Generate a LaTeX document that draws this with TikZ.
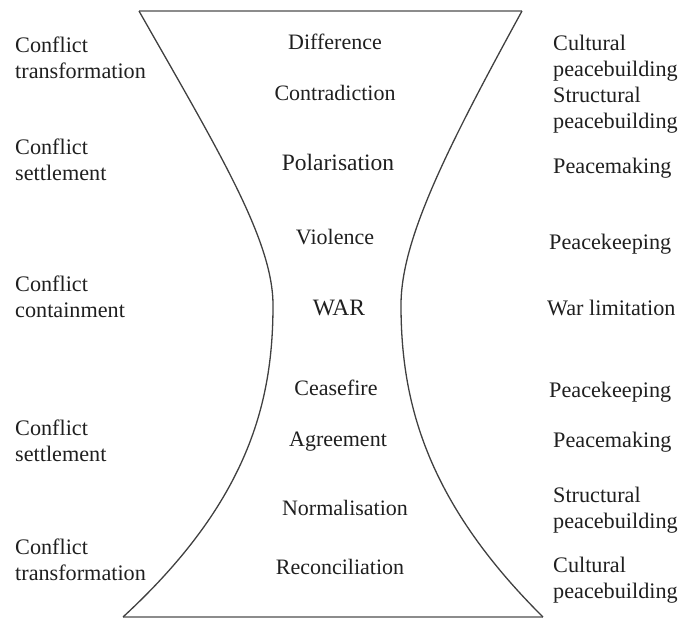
\documentclass[tikz,border=0pt]{standalone}
\usepackage{fontspec}
\setmainfont{Liberation Serif}
\begin{document}
\begin{tikzpicture}[x=1pt,y=-1pt,
  lbl/.style={font=\fontsize{22.2}{25.5}\selectfont, text=black!88, inner sep=0pt, align=left, anchor=west},
  stage/.style={font=\fontsize{22}{25.5}\selectfont, text=black!88, inner sep=0pt, anchor=center},
  bigstage/.style={font=\fontsize{23.5}{27}\selectfont, text=black!88, inner sep=0pt, anchor=center},
  edge/.style={draw=black!75, line width=1.3pt},
  rim/.style={draw=black!45, line width=2.6pt}]
\useasboundingbox (0,0) rectangle (681,621);
% shape corners
\coordinate (tl) at (139,11);
\coordinate (tr) at (522,11);
\coordinate (wl) at (273,305);
\coordinate (wr) at (401,305);
\coordinate (bl) at (123,617);
\coordinate (br) at (543,617);
% rims
\draw[rim] (tl) -- (tr);
\draw[rim] (bl) -- (br);
% curved sides
\draw[edge] (tl) .. controls (218,150) and (273,240) .. (wl)
            .. controls (273,400) and (250,500) .. (bl);
\draw[edge] (tr) .. controls (446,150) and (401,240) .. (wr)
            .. controls (401,400) and (425,500) .. (br);
% centre stages
\node[stage] (difference) at (335,42) {Difference};
\node[stage] (contradiction) at (335,93) {Contradiction};
\node[bigstage] (polarisation) at (338,162) {Polarisation};
\node[stage] (violence) at (335,237) {Violence};
\node[bigstage] (war) at (339,308) {WAR};
\node[stage] (ceasefire) at (336,388) {Ceasefire};
\node[stage] (agreement) at (338,442) {Agreement};
\node[stage] (normalisation) at (345,508) {Normalisation};
\node[stage] (reconciliation) at (340,567) {Reconciliation};
% left column
\node[lbl] (ct1) at (15,58) {Conflict\\transformation};
\node[lbl] (cs1) at (15,160) {Conflict\\settlement};
\node[lbl] (cc) at (15,297) {Conflict\\containment};
\node[lbl] (cs2) at (15,441) {Conflict\\settlement};
\node[lbl] (ct2) at (15,560) {Conflict\\transformation};
% right column
\node[lbl] (cp1) at (553,58) {Cultural\\peacebuilding};
\node[lbl] (sp1) at (553,110) {Structural\\peacebuilding};
\node[lbl] (pm1) at (553,168) {Peacemaking};
\node[lbl] (pk1) at (549,244) {Peacekeeping};
\node[lbl] (wl2) at (547,308) {War limitation};
\node[lbl] (pk2) at (549,392) {Peacekeeping};
\node[lbl] (pm2) at (553,442) {Peacemaking};
\node[lbl] (sp2) at (553,510) {Structural\\peacebuilding};
\node[lbl] (cp2) at (553,580) {Cultural\\peacebuilding};
\end{tikzpicture}
\end{document}
